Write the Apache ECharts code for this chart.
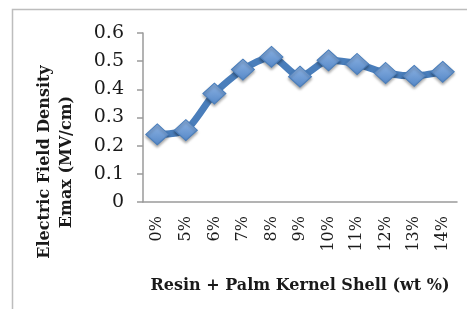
<!DOCTYPE html>
<html>
<head>
    <meta charset="utf-8">
    <title>Electric Field Density</title>
    <script src="https://cdn.jsdelivr.net/npm/echarts@6/dist/echarts.min.js"></script>
    <style>
        html, body { margin: 0; padding: 0; background: #fff; }
        #chart { width: 467px; height: 309px; }
    </style>
</head>
<body>
<div id="chart"></div>
<script>
    // data
    var categories = ['0%', '5%', '6%', '7%', '8%', '9%', '10%', '11%', '12%', '13%', '14%'];
    var emax = [0.24, 0.255, 0.385, 0.47, 0.515, 0.445, 0.503, 0.49, 0.458, 0.448, 0.462];
    var yTicks = [0, 0.1, 0.2, 0.3, 0.4, 0.5, 0.6];

    var serif = '"DejaVu Serif", "Liberation Serif", serif';
    var chart = echarts.init(document.getElementById('chart'));
    var option = {
        animation: false,
        grid: {
            left: 143,
            right: 10,
            top: 33,
            bottom: 107
        },
        graphic: [{
            type: 'polyline',
            shape: { points: [[12.5, 309], [12.5, 9.5], [467, 9.5]] },
            style: { stroke: '#bdbdbd', lineWidth: 1.5, fill: null }
        }, {
            type: 'text',
            x: 56,
            y: 162,
            rotation: Math.PI / 2,
            style: {
                text: 'Electric Field Density\nEmax (MV/cm)',
                font: '600 16px ' + serif,
                fill: '#1a1a1a',
                align: 'center',
                verticalAlign: 'middle',
                lineHeight: 22
            }
        }],
        xAxis: {
            type: 'category',
            data: categories,
            boundaryGap: true,
            name: 'Resin + Palm Kernel Shell (wt %)',
            nameLocation: 'middle',
            nameGap: 76,
            nameTextStyle: {
                fontFamily: serif,
                fontWeight: 600,
                fontSize: 16,
                color: '#1a1a1a'
            },
            axisLine: { lineStyle: { color: '#9a9a9a', width: 1.5 } },
            axisTick: { show: false },
            axisLabel: {
                rotate: 90,
                margin: 14,
                fontFamily: serif,
                fontSize: 16,
                color: '#1a1a1a'
            }
        },
        yAxis: {
            type: 'value',
            min: yTicks[0],
            max: yTicks[yTicks.length - 1],
            interval: 0.1,
            splitLine: { show: false },
            axisLine: { show: true, lineStyle: { color: '#9a9a9a', width: 1.5 } },
            axisTick: { show: true, length: 6, lineStyle: { color: '#9a9a9a', width: 1.5 } },
            axisLabel: {
                margin: 19,
                fontFamily: serif,
                fontSize: 19,
                color: '#1a1a1a'
            }
        },
        series: [{
            type: 'line',
            data: emax,
            smooth: 0.25,
            symbol: 'diamond',
            symbolSize: [23, 21],
            lineStyle: { color: '#4a7ebb', width: 7 },
            itemStyle: {
                color: new echarts.graphic.LinearGradient(0, 0, 0, 1, [
                    { offset: 0, color: '#8fb4e3' },
                    { offset: 1, color: '#5588c8' }
                ]),
                borderColor: '#4a7ebb',
                borderWidth: 1,
                shadowColor: 'rgba(0,0,0,0.35)',
                shadowBlur: 3,
                shadowOffsetY: 2
            }
        }]
    };
    chart.setOption(option);
</script>
</body>
</html>
